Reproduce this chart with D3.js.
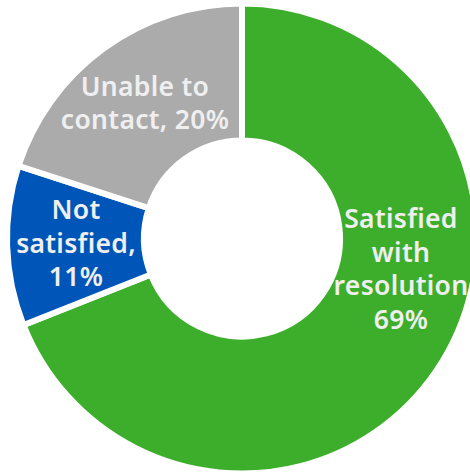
<!DOCTYPE html>
<html>
<head>
<meta charset="utf-8">
<script src="https://cdn.jsdelivr.net/npm/d3@7"></script>
<style>
  html, body { margin: 0; padding: 0; background: #fff; }
  svg { display: block; }
  .lbl { font-family: "Noto Sans", "Open Sans", sans-serif; font-weight: 600; fill: #efefef; letter-spacing: 0.3px; }
</style>
</head>
<body>
<svg id="chart" width="470" height="475"></svg>
<script>
// ---- data ----
const categories = ['Satisfied with resolution', 'Not satisfied', 'Unable to contact'];
const values = [69, 11, 20];
const labelLines = [
    ['Satisfied', 'with', 'resolution', '69%'],
    ['Not', 'satisfied,', '11%'],
    ['Unable to', 'contact, 20%']
];
const colors = ['#3dae2b', '#0055b8', '#ababab'];

// ---- layout ----
const width = 470, height = 475;
const cx = 242, cy = 238.5;
const outerR = 235, innerR = 98;
// label block centres (baseline-centred), relative to the ring centre
const labelOffset = [[159, 40], [-166, 14], [-97, -126]];
const lineH = 33.5;

const svg = d3.select('#chart');
const g = svg.append('g').attr('transform', 'translate(' + cx + ',' + cy + ')');

const pie = d3.pie().sort(null).value(function (d) { return d.value; });
const arc = d3.arc().innerRadius(innerR).outerRadius(outerR);

const data = categories.map(function (c, i) { return { name: c, value: values[i], i: i }; });

g.selectAll('path').data(pie(data)).enter().append('path')
    .attr('d', arc)
    .attr('fill', function (d) { return colors[d.data.i]; })
    .attr('stroke', '#fff')
    .attr('stroke-width', 6)
    .attr('stroke-linejoin', 'miter');

const labels = g.selectAll('text.lbl').data(data).enter().append('text')
    .attr('class', 'lbl')
    .attr('text-anchor', 'middle')
    .attr('font-size', 26.5)
    .attr('transform', function (d) {
        const o = labelOffset[d.i];
        return 'translate(' + o[0] + ',' + o[1] + ')';
    });

labels.each(function (d) {
    const lines = labelLines[d.i];
    const t = d3.select(this);
    const start = -(lines.length - 1) / 2 * lineH;
    lines.forEach(function (ln, k) {
        t.append('tspan')
            .attr('x', 0)
            .attr('y', start + k * lineH)
            .text(ln);
    });
});
</script>
</body>
</html>
